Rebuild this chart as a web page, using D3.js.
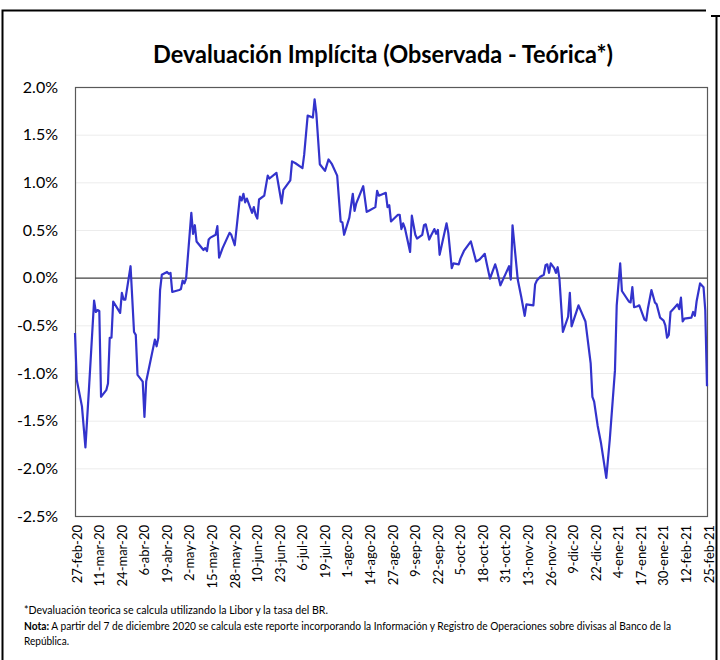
<!DOCTYPE html>
<html>
<head>
<meta charset="utf-8">
<script src="https://cdn.jsdelivr.net/npm/d3@7/dist/d3.min.js"></script>
<style>
  html, body { margin: 0; padding: 0; background: #fff; }
  svg { display: block; }
  text { font-family: Lato, "Open Sans", "Liberation Sans", sans-serif; fill: #000; }
</style>
</head>
<body>
<svg id="chart" width="720" height="660"></svg>
<script>
// Daily implicit devaluation spread (observed minus theoretical), in percent
const dates = [
  "2020-02-27","2020-02-28","2020-03-02","2020-03-04","2020-03-06","2020-03-09","2020-03-10","2020-03-11","2020-03-12","2020-03-13",
  "2020-03-16","2020-03-17","2020-03-18","2020-03-19","2020-03-20","2020-03-24","2020-03-25","2020-03-26","2020-03-27","2020-03-30",
  "2020-04-01","2020-04-02","2020-04-03","2020-04-06","2020-04-07","2020-04-08","2020-04-13","2020-04-14","2020-04-15","2020-04-16",
  "2020-04-17","2020-04-20","2020-04-21","2020-04-22","2020-04-23","2020-04-27","2020-04-28","2020-04-29","2020-04-30","2020-05-01",
  "2020-05-04","2020-05-05","2020-05-06","2020-05-07","2020-05-11","2020-05-12","2020-05-13","2020-05-14","2020-05-15","2020-05-18",
  "2020-05-19","2020-05-20","2020-05-22","2020-05-26","2020-05-27","2020-05-29","2020-06-01","2020-06-02","2020-06-03","2020-06-04",
  "2020-06-05","2020-06-08","2020-06-09","2020-06-10","2020-06-11","2020-06-12","2020-06-15","2020-06-17","2020-06-18","2020-06-22",
  "2020-06-25","2020-06-26","2020-06-30","2020-07-01","2020-07-03","2020-07-07","2020-07-08","2020-07-10","2020-07-13","2020-07-14",
  "2020-07-15","2020-07-17","2020-07-20","2020-07-22","2020-07-24","2020-07-27","2020-07-29","2020-07-30","2020-07-31","2020-08-03",
  "2020-08-05","2020-08-06","2020-08-07","2020-08-11","2020-08-13","2020-08-14","2020-08-18","2020-08-19","2020-08-20","2020-08-24",
  "2020-08-25","2020-08-26","2020-08-27","2020-08-31","2020-09-01","2020-09-02","2020-09-03","2020-09-04","2020-09-07","2020-09-08",
  "2020-09-10","2020-09-11","2020-09-14","2020-09-15","2020-09-16","2020-09-18","2020-09-19","2020-09-21","2020-09-22","2020-09-23",
  "2020-09-24","2020-09-28","2020-09-29","2020-10-01","2020-10-02","2020-10-05","2020-10-06","2020-10-08","2020-10-12","2020-10-15",
  "2020-10-17","2020-10-20","2020-10-21","2020-10-23","2020-10-26","2020-10-27","2020-10-29","2020-11-01","2020-11-03","2020-11-04",
  "2020-11-05","2020-11-08","2020-11-10","2020-11-12","2020-11-13","2020-11-17","2020-11-18","2020-11-19","2020-11-21","2020-11-23",
  "2020-11-24","2020-11-25","2020-11-26","2020-11-27","2020-11-29","2020-11-30","2020-12-01","2020-12-02","2020-12-04","2020-12-07",
  "2020-12-08","2020-12-09","2020-12-13","2020-12-17","2020-12-20","2020-12-21","2020-12-22","2020-12-24","2020-12-26","2020-12-29",
  "2020-12-31","2021-01-03","2021-01-04","2021-01-06","2021-01-07","2021-01-11","2021-01-12","2021-01-13","2021-01-14","2021-01-16",
  "2021-01-17","2021-01-20","2021-01-21","2021-01-22","2021-01-24","2021-01-26","2021-01-27","2021-01-29","2021-01-31","2021-02-01",
  "2021-02-02","2021-02-03","2021-02-04","2021-02-06","2021-02-08","2021-02-09","2021-02-10","2021-02-11","2021-02-12","2021-02-16",
  "2021-02-17","2021-02-18","2021-02-19","2021-02-21","2021-02-23","2021-02-24","2021-02-25"
];

const values = [
  -0.58,-1.07,-1.35,-1.78,-1.18,-0.24,-0.36,-0.34,-0.35,-1.25,
  -1.18,-1.11,-0.63,-0.63,-0.25,-0.37,-0.16,-0.23,-0.23,0.12,
  -0.57,-0.60,-1.02,-1.09,-1.46,-1.09,-0.65,-0.72,-0.63,-0.13,
  0.03,0.06,0.04,0.05,-0.15,-0.13,-0.12,-0.03,-0.06,-0.01,
  0.68,0.46,0.55,0.38,0.29,0.31,0.28,0.40,0.42,0.45,
  0.54,0.21,0.31,0.47,0.45,0.34,0.85,0.81,0.88,0.79,
  0.83,0.68,0.74,0.66,0.62,0.82,0.86,1.07,1.04,1.10,
  0.78,0.92,1.02,1.22,1.20,1.15,1.29,1.70,1.68,1.87,
  1.72,1.19,1.12,1.24,1.19,1.07,0.59,0.58,0.45,0.63,
  0.88,0.70,0.78,0.96,0.69,0.70,0.74,0.91,0.86,0.89,
  0.74,0.76,0.59,0.66,0.66,0.51,0.57,0.52,0.27,0.65,
  0.45,0.41,0.45,0.55,0.56,0.40,0.44,0.51,0.46,0.50,
  0.24,0.57,0.47,0.10,0.15,0.14,0.20,0.28,0.38,0.17,
  0.19,0.25,0.16,-0.01,0.14,0.08,-0.08,0.04,0.12,-0.02,
  0.55,-0.02,-0.20,-0.40,-0.28,-0.29,-0.07,-0.03,0.01,0.03,
  0.13,0.14,0.05,0.15,0.10,0.05,0.11,-0.01,-0.57,-0.41,
  -0.16,-0.51,-0.29,-0.46,-0.90,-1.25,-1.30,-1.55,-1.74,-2.10,
  -1.70,-0.97,-0.29,0.15,-0.14,-0.25,-0.26,-0.10,-0.31,-0.30,
  -0.29,-0.44,-0.45,-0.32,-0.13,-0.26,-0.28,-0.42,-0.45,-0.50,
  -0.63,-0.60,-0.36,-0.32,-0.28,-0.33,-0.21,-0.46,-0.43,-0.42,
  -0.36,-0.40,-0.25,-0.06,-0.10,-0.34,-1.14
];

// Category labels shown along the date axis (every 13 days)
const tickLabels = [
  "27-feb-20","11-mar-20","24-mar-20","6-abr-20","19-abr-20","2-may-20","15-may-20","28-may-20",
  "10-jun-20","23-jun-20","6-jul-20","19-jul-20","1-ago-20","14-ago-20","27-ago-20","9-sep-20",
  "22-sep-20","5-oct-20","18-oct-20","31-oct-20","13-nov-20","26-nov-20","9-dic-20","22-dic-20",
  "4-ene-21","17-ene-21","30-ene-21","12-feb-21","25-feb-21"
];

const yTicks = [-2.5, -2.0, -1.5, -1.0, -0.5, 0.0, 0.5, 1.0, 1.5, 2.0];

const title = "Devaluación Implícita (Observada - Teórica*)";
const note1 = "*Devaluación teorica se calcula utilizando la Libor y la tasa del BR.";
const note2Bold = "Nota:";
const note2 = " A partir del 7 de diciembre 2020 se calcula este reporte incorporando la Información y Registro de Operaciones sobre divisas al Banco de la";
const note3 = "República.";

const monthIdx = {ene:0, feb:1, mar:2, abr:3, may:4, jun:5, jul:6, ago:7, sep:8, oct:9, nov:10, dic:11};
function parseLabel(s) {
  const [d, m, y] = s.split("-");
  return new Date(Date.UTC(2000 + +y, monthIdx[m], +d));
}

const parse = d3.utcParse("%Y-%m-%d");
const series = dates.map((d, i) => ({ date: parse(d), value: values[i] }));
const tickDates = tickLabels.map(parseLabel);

const svg = d3.select("#chart");
const plot = { left: 75, right: 707, top: 87, bottom: 516 };

const x = d3.scaleUtc()
  .domain([tickDates[0], tickDates[tickDates.length - 1]])
  .range([plot.left, plot.right]);
const y = d3.scaleLinear()
  .domain([-2.5, 2.0])
  .range([plot.bottom, plot.top]);

// Outer frame
const frame = svg.append("g").attr("stroke", "#000").attr("stroke-width", 2).attr("fill", "none");
frame.append("path").attr("d", "M2.5,660 V10.5 H706");
frame.append("path").attr("d", "M716.5,16 V660");
frame.append("path").attr("d", "M711,16 H720");

// Title
svg.append("text")
  .attr("x", 383).attr("y", 63)
  .attr("text-anchor", "middle")
  .attr("font-size", 25).attr("font-weight", 700)
  .attr("textLength", 460).attr("lengthAdjust", "spacingAndGlyphs")
  .text(title);

// Horizontal gridlines
svg.append("g")
  .selectAll("line")
  .data(yTicks.filter(v => v !== 0 && v !== -2.5 && v !== 2.0))
  .join("line")
  .attr("x1", plot.left).attr("x2", plot.right)
  .attr("y1", d => y(d) + 0.5).attr("y2", d => y(d) + 0.5)
  .attr("stroke", "#ececec").attr("stroke-width", 1);

// Plot border
svg.append("rect")
  .attr("x", plot.left + 0.5).attr("y", plot.top + 0.5)
  .attr("width", plot.right - plot.left).attr("height", plot.bottom - plot.top)
  .attr("fill", "none").attr("stroke", "#595959").attr("stroke-width", 1.2);

// Zero reference line
svg.append("line")
  .attr("x1", plot.left).attr("x2", plot.right)
  .attr("y1", y(0) + 0.5).attr("y2", y(0) + 0.5)
  .attr("stroke", "#404040").attr("stroke-width", 1.2);

// Y axis labels
const yAxis = d3.axisLeft(y)
  .tickValues(yTicks)
  .tickFormat(d => d.toFixed(1) + "%")
  .tickSize(0)
  .tickPadding(17);
const gy = svg.append("g").attr("transform", `translate(${plot.left},0)`).call(yAxis);
gy.select(".domain").remove();
gy.selectAll("text").attr("font-size", 16).attr("font-family", null).attr("fill", "#000");

// X axis labels, rotated
const xAxis = d3.axisBottom(x)
  .tickValues(tickDates)
  .tickFormat((d, i) => tickLabels[i])
  .tickSize(0);
const gx = svg.append("g").attr("transform", `translate(0,${plot.bottom})`).call(xAxis);
gx.select(".domain").remove();
gx.selectAll("text")
  .attr("font-size", 13).attr("font-family", null).attr("fill", "#000")
  .attr("text-anchor", "end")
  .attr("transform", "rotate(-90)")
  .attr("x", -9).attr("y", 1.5)
  .attr("dy", "0.35em");

// Series line
const line = d3.line()
  .x(d => x(d.date))
  .y(d => y(d.value));
svg.append("path")
  .datum(series)
  .attr("fill", "none")
  .attr("stroke", "#3333cc")
  .attr("stroke-width", 2.2)
  .attr("stroke-linejoin", "round")
  .attr("d", line);

// Footnotes
const notes = svg.append("g").attr("font-size", 10.5);
notes.append("text").attr("x", 24).attr("y", 614)
  .attr("textLength", 304).attr("lengthAdjust", "spacingAndGlyphs")
  .text(note1);
const n2 = notes.append("text").attr("x", 24).attr("y", 630)
  .attr("textLength", 647).attr("lengthAdjust", "spacingAndGlyphs");
n2.append("tspan").attr("font-weight", 700).text(note2Bold);
n2.append("tspan").text(note2);
notes.append("text").attr("x", 24).attr("y", 645)
  .attr("textLength", 45).attr("lengthAdjust", "spacingAndGlyphs")
  .text(note3);
</script>
</body>
</html>
